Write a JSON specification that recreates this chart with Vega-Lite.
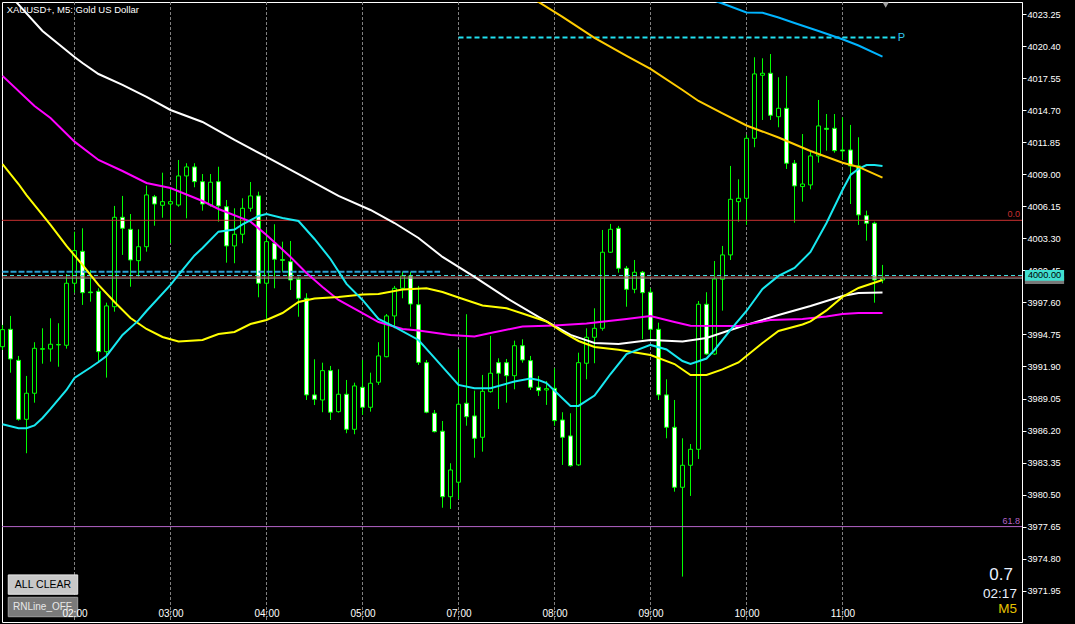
{
"$schema": "https://vega.github.io/schema/vega-lite/v6.json",
"autosize": {"type": "none"},
"padding": {"left": 2, "top": 2, "right": 53, "bottom": 2},
"width": 1020,
"height": 620,
"background": "#000000",
"config": {"font": "Liberation Sans", "view": {"stroke": "#FFFFFF", "strokeWidth": 1}, "axis": {"labelColor": "#FFFFFF", "tickColor": "#FFFFFF", "domainColor": "#FFFFFF", "labelFont": "Liberation Sans", "grid": false, "labelFlush": false, "labelOverlap": false}},
"datasets": {
"bars": [
{"k":0,"o":3993.66,"h":3995.60,"l":3993.37,"c":3995.18},
{"k":1,"o":3995.21,"h":3996.40,"l":3991.35,"c":3992.57},
{"k":2,"o":3992.45,"h":3992.84,"l":3987.08,"c":3987.20},
{"k":3,"o":3987.20,"h":3991.06,"l":3984.18,"c":3989.52},
{"k":4,"o":3989.52,"h":3994.06,"l":3988.68,"c":3993.52},
{"k":5,"o":3993.43,"h":3995.30,"l":3992.15,"c":3993.49},
{"k":6,"o":3993.46,"h":3996.19,"l":3992.33,"c":3993.88},
{"k":7,"o":3993.82,"h":3995.75,"l":3991.88,"c":3993.86},
{"k":8,"o":3993.79,"h":4000.13,"l":3993.49,"c":3999.31},
{"k":9,"o":3999.31,"h":4003.90,"l":3998.47,"c":4002.21},
{"k":10,"o":4002.15,"h":4004.20,"l":3997.38,"c":3998.47},
{"k":11,"o":3998.53,"h":4000.49,"l":3997.67,"c":3998.47},
{"k":12,"o":3998.59,"h":3998.86,"l":3992.33,"c":3993.22},
{"k":13,"o":3993.22,"h":3997.58,"l":3990.91,"c":3997.29},
{"k":14,"o":3997.22,"h":4006.19,"l":3996.78,"c":4005.18},
{"k":15,"o":4005.18,"h":4007.08,"l":4001.83,"c":4004.20},
{"k":16,"o":4004.11,"h":4005.47,"l":3999.00,"c":4001.38},
{"k":17,"o":4001.32,"h":4004.11,"l":3999.89,"c":4002.56},
{"k":18,"o":4002.56,"h":4008.00,"l":4002.12,"c":4007.17},
{"k":19,"o":4007.01,"h":4007.17,"l":4004.43,"c":4006.36},
{"k":20,"o":4006.25,"h":4009.15,"l":4005.14,"c":4006.57},
{"k":21,"o":4006.36,"h":4007.61,"l":4002.87,"c":4006.57},
{"k":22,"o":4006.27,"h":4010.28,"l":4006.12,"c":4008.86},
{"k":23,"o":4008.86,"h":4009.99,"l":4005.09,"c":4009.66},
{"k":24,"o":4009.66,"h":4009.99,"l":4007.85,"c":4008.35},
{"k":25,"o":4008.35,"h":4009.03,"l":4005.77,"c":4006.36},
{"k":26,"o":4006.27,"h":4009.03,"l":4006.12,"c":4008.30},
{"k":27,"o":4008.35,"h":4009.68,"l":4004.79,"c":4006.19},
{"k":28,"o":4006.12,"h":4006.72,"l":4001.14,"c":4002.63},
{"k":29,"o":4002.63,"h":4005.98,"l":4001.09,"c":4003.67},
{"k":30,"o":4003.67,"h":4006.87,"l":4002.87,"c":4005.98},
{"k":31,"o":4005.98,"h":4008.32,"l":4005.68,"c":4007.08},
{"k":32,"o":4007.08,"h":4007.46,"l":3998.06,"c":3999.31},
{"k":33,"o":3999.31,"h":4004.05,"l":3996.04,"c":4003.01},
{"k":34,"o":4002.87,"h":4004.56,"l":3998.86,"c":4001.44},
{"k":35,"o":4001.41,"h":4003.01,"l":4000.34,"c":4001.35},
{"k":36,"o":4001.23,"h":4003.07,"l":3998.71,"c":3999.60},
{"k":37,"o":3999.66,"h":3999.89,"l":3996.33,"c":3997.97},
{"k":38,"o":3997.97,"h":3998.42,"l":3988.92,"c":3989.37},
{"k":39,"o":3989.37,"h":3992.54,"l":3988.47,"c":3988.98},
{"k":40,"o":3988.92,"h":3992.24,"l":3987.83,"c":3991.53},
{"k":41,"o":3991.53,"h":3991.95,"l":3987.14,"c":3987.83},
{"k":42,"o":3987.88,"h":3991.65,"l":3987.79,"c":3989.43},
{"k":43,"o":3989.43,"h":3990.70,"l":3985.96,"c":3986.31},
{"k":44,"o":3986.31,"h":3990.46,"l":3985.87,"c":3990.17},
{"k":45,"o":3990.05,"h":3992.48,"l":3987.59,"c":3988.27},
{"k":46,"o":3988.27,"h":3991.35,"l":3987.88,"c":3990.41},
{"k":47,"o":3990.50,"h":3994.06,"l":3990.26,"c":3992.84},
{"k":48,"o":3992.77,"h":3996.57,"l":3992.72,"c":3996.40},
{"k":49,"o":3996.40,"h":3999.07,"l":3995.30,"c":3998.86},
{"k":50,"o":3998.86,"h":4000.34,"l":3997.97,"c":3999.96},
{"k":51,"o":3999.96,"h":4000.31,"l":3995.45,"c":3997.46},
{"k":52,"o":3997.40,"h":3999.07,"l":3992.04,"c":3992.27},
{"k":53,"o":3992.24,"h":3992.48,"l":3987.74,"c":3987.83},
{"k":54,"o":3987.74,"h":3988.03,"l":3986.03,"c":3986.10},
{"k":55,"o":3986.14,"h":3987.05,"l":3979.33,"c":3980.31},
{"k":56,"o":3980.31,"h":3983.29,"l":3979.22,"c":3982.69},
{"k":57,"o":3981.60,"h":3993.43,"l":3980.11,"c":3988.54},
{"k":58,"o":3988.63,"h":3996.55,"l":3986.63,"c":3987.43},
{"k":59,"o":3987.50,"h":3989.75,"l":3983.78,"c":3985.51},
{"k":60,"o":3985.60,"h":3991.15,"l":3984.32,"c":3989.69},
{"k":61,"o":3989.66,"h":3994.62,"l":3989.57,"c":3991.30},
{"k":62,"o":3992.24,"h":3992.63,"l":3988.12,"c":3991.30},
{"k":63,"o":3992.24,"h":3992.57,"l":3988.68,"c":3991.08},
{"k":64,"o":3991.08,"h":3994.20,"l":3989.87,"c":3993.75},
{"k":65,"o":3993.75,"h":3994.32,"l":3992.24,"c":3992.48},
{"k":66,"o":3992.42,"h":3992.84,"l":3989.81,"c":3990.05},
{"k":67,"o":3990.05,"h":3991.06,"l":3989.28,"c":3989.75},
{"k":68,"o":3989.81,"h":3990.61,"l":3988.48,"c":3989.93},
{"k":69,"o":3989.96,"h":3991.74,"l":3986.63,"c":3987.08},
{"k":70,"o":3987.14,"h":3987.83,"l":3983.14,"c":3985.60},
{"k":71,"o":3985.72,"h":3987.74,"l":3982.98,"c":3983.07},
{"k":72,"o":3983.14,"h":3993.13,"l":3983.05,"c":3992.24},
{"k":73,"o":3992.19,"h":3995.30,"l":3990.76,"c":3994.50},
{"k":74,"o":3994.50,"h":3997.08,"l":3992.19,"c":3995.30},
{"k":75,"o":3995.30,"h":4004.05,"l":3995.09,"c":4002.07},
{"k":76,"o":4002.07,"h":4004.59,"l":4002.00,"c":4004.11},
{"k":77,"o":4004.20,"h":4004.41,"l":4000.25,"c":4000.64},
{"k":78,"o":4000.64,"h":4000.85,"l":3997.22,"c":3998.77},
{"k":79,"o":3998.77,"h":4001.38,"l":3998.42,"c":4000.29},
{"k":80,"o":4000.29,"h":4000.40,"l":3994.32,"c":3998.47},
{"k":81,"o":3998.51,"h":3998.86,"l":3994.32,"c":3995.21},
{"k":82,"o":3995.21,"h":3995.80,"l":3988.92,"c":3989.37},
{"k":83,"o":3989.37,"h":3990.76,"l":3985.51,"c":3986.49},
{"k":84,"o":3986.49,"h":3988.92,"l":3980.76,"c":3981.15},
{"k":85,"o":3981.15,"h":3985.51,"l":3973.20,"c":3983.11},
{"k":86,"o":3983.11,"h":3985.00,"l":3980.38,"c":3984.53},
{"k":87,"o":3984.53,"h":3997.73,"l":3983.67,"c":3997.44},
{"k":88,"o":3997.44,"h":3998.51,"l":3992.93,"c":3993.01},
{"k":89,"o":3993.01,"h":4001.29,"l":3992.93,"c":3999.69},
{"k":90,"o":3999.66,"h":4002.63,"l":3996.87,"c":4001.83},
{"k":91,"o":4001.83,"h":4009.75,"l":4001.38,"c":4006.78},
{"k":92,"o":4006.57,"h":4008.56,"l":4004.79,"c":4006.87},
{"k":93,"o":4006.87,"h":4012.51,"l":4004.50,"c":4012.21},
{"k":94,"o":4012.21,"h":4019.42,"l":4011.41,"c":4017.94},
{"k":95,"o":4017.82,"h":4019.33,"l":4013.84,"c":4018.00},
{"k":96,"o":4018.00,"h":4019.71,"l":4013.84,"c":4014.26},
{"k":97,"o":4014.13,"h":4017.64,"l":4013.19,"c":4014.88},
{"k":98,"o":4014.88,"h":4017.76,"l":4009.48,"c":4009.99},
{"k":99,"o":4009.99,"h":4010.28,"l":4004.70,"c":4007.97},
{"k":100,"o":4007.91,"h":4012.59,"l":4006.57,"c":4008.14},
{"k":101,"o":4008.06,"h":4011.02,"l":4007.67,"c":4010.64},
{"k":102,"o":4010.64,"h":4015.62,"l":4010.04,"c":4013.31},
{"k":103,"o":4013.10,"h":4014.37,"l":4011.11,"c":4013.01},
{"k":104,"o":4013.10,"h":4014.37,"l":4010.93,"c":4011.11},
{"k":105,"o":4011.17,"h":4014.08,"l":4010.28,"c":4011.08},
{"k":106,"o":4011.17,"h":4013.40,"l":4006.36,"c":4009.75},
{"k":107,"o":4009.75,"h":4012.30,"l":4004.50,"c":4005.39},
{"k":108,"o":4005.32,"h":4005.77,"l":4003.10,"c":4004.65},
{"k":109,"o":4004.65,"h":4004.79,"l":3997.58,"c":3999.60},
{"k":110,"o":3999.60,"h":4000.94,"l":3999.31,"c":3999.78}
],
"ma": [
{"k":0,"p":4025.68,"s":"w"},{"k":5,"p":4021.76,"s":"w"},{"k":9,"p":4019.45,"s":"w"},{"k":10,"p":4018.91,"s":"w"},{"k":12,"p":4017.93,"s":"w"},{"k":15,"p":4016.96,"s":"w"},{"k":18,"p":4015.89,"s":"w"},{"k":21,"p":4014.73,"s":"w"},{"k":25,"p":4013.66,"s":"w"},{"k":29,"p":4012.06,"s":"w"},{"k":33,"p":4010.55,"s":"w"},{"k":37,"p":4009.03,"s":"w"},{"k":42,"p":4007.08,"s":"w"},{"k":46,"p":4005.83,"s":"w"},{"k":49,"p":4004.67,"s":"w"},{"k":52,"p":4003.34,"s":"w"},{"k":55,"p":4001.65,"s":"w"},{"k":59,"p":3999.87,"s":"w"},{"k":63,"p":3998.00,"s":"w"},{"k":67,"p":3996.31,"s":"w"},{"k":71,"p":3994.71,"s":"w"},{"k":74,"p":3993.99,"s":"w"},{"k":77,"p":3993.90,"s":"w"},{"k":81,"p":3994.26,"s":"w"},{"k":85,"p":3994.13,"s":"w"},{"k":88,"p":3994.44,"s":"w"},{"k":91,"p":3995.15,"s":"w"},{"k":93,"p":3995.60,"s":"w"},{"k":97,"p":3996.49,"s":"w"},{"k":101,"p":3997.29,"s":"w"},{"k":105,"p":3998.18,"s":"w"},{"k":107,"p":3998.44,"s":"w"},{"k":110,"p":3998.49,"s":"w"},
{"k":0,"p":4017.76,"s":"m"},{"k":4,"p":4015.09,"s":"m"},{"k":6,"p":4014.02,"s":"m"},{"k":9,"p":4011.91,"s":"m"},{"k":12,"p":4010.28,"s":"m"},{"k":15,"p":4009.30,"s":"m"},{"k":18,"p":4008.23,"s":"m"},{"k":21,"p":4007.79,"s":"m"},{"k":25,"p":4006.63,"s":"m"},{"k":27,"p":4005.92,"s":"m"},{"k":31,"p":4004.79,"s":"m"},{"k":33,"p":4003.60,"s":"m"},{"k":36,"p":4001.65,"s":"m"},{"k":38,"p":4000.22,"s":"m"},{"k":40,"p":3998.98,"s":"m"},{"k":42,"p":3997.82,"s":"m"},{"k":45,"p":3996.66,"s":"m"},{"k":47,"p":3995.86,"s":"m"},{"k":50,"p":3995.24,"s":"m"},{"k":52,"p":3995.11,"s":"m"},{"k":56,"p":3994.71,"s":"m"},{"k":59,"p":3994.57,"s":"m"},{"k":61,"p":3994.88,"s":"m"},{"k":65,"p":3995.46,"s":"m"},{"k":69,"p":3995.55,"s":"m"},{"k":73,"p":3995.73,"s":"m"},{"k":78,"p":3996.13,"s":"m"},{"k":81,"p":3996.40,"s":"m"},{"k":84,"p":3995.86,"s":"m"},{"k":86,"p":3995.53,"s":"m"},{"k":92,"p":3995.51,"s":"m"},{"k":96,"p":3996.04,"s":"m"},{"k":100,"p":3996.13,"s":"m"},{"k":103,"p":3996.35,"s":"m"},{"k":105,"p":3996.57,"s":"m"},{"k":107,"p":3996.66,"s":"m"},{"k":110,"p":3996.66,"s":"m"},
{"k":0,"p":4009.92,"s":"y"},{"k":2,"p":4008.14,"s":"y"},{"k":3,"p":4007.16,"s":"y"},{"k":6,"p":4004.50,"s":"y"},{"k":8,"p":4002.63,"s":"y"},{"k":10,"p":4000.94,"s":"y"},{"k":12,"p":3999.16,"s":"y"},{"k":14,"p":3997.64,"s":"y"},{"k":16,"p":3996.22,"s":"y"},{"k":18,"p":3995.24,"s":"y"},{"k":20,"p":3994.53,"s":"y"},{"k":22,"p":3994.13,"s":"y"},{"k":25,"p":3994.26,"s":"y"},{"k":27,"p":3994.79,"s":"y"},{"k":29,"p":3994.97,"s":"y"},{"k":31,"p":3995.68,"s":"y"},{"k":33,"p":3996.04,"s":"y"},{"k":35,"p":3996.66,"s":"y"},{"k":37,"p":3997.64,"s":"y"},{"k":39,"p":3997.95,"s":"y"},{"k":42,"p":3998.09,"s":"y"},{"k":45,"p":3998.31,"s":"y"},{"k":47,"p":3998.35,"s":"y"},{"k":50,"p":3998.75,"s":"y"},{"k":53,"p":3998.86,"s":"y"},{"k":55,"p":3998.53,"s":"y"},{"k":57,"p":3998.04,"s":"y"},{"k":60,"p":3997.33,"s":"y"},{"k":63,"p":3997.08,"s":"y"},{"k":65,"p":3996.62,"s":"y"},{"k":68,"p":3995.91,"s":"y"},{"k":70,"p":3994.97,"s":"y"},{"k":72,"p":3994.17,"s":"y"},{"k":74,"p":3993.64,"s":"y"},{"k":77,"p":3993.40,"s":"y"},{"k":81,"p":3992.92,"s":"y"},{"k":84,"p":3992.12,"s":"y"},{"k":86,"p":3991.14,"s":"y"},{"k":88,"p":3991.14,"s":"y"},{"k":90,"p":3991.64,"s":"y"},{"k":92,"p":3992.26,"s":"y"},{"k":95,"p":3993.99,"s":"y"},{"k":97,"p":3995.06,"s":"y"},{"k":100,"p":3995.64,"s":"y"},{"k":101,"p":3995.91,"s":"y"},{"k":103,"p":3996.89,"s":"y"},{"k":105,"p":3998.09,"s":"y"},{"k":107,"p":3998.89,"s":"y"},{"k":110,"p":3999.60,"s":"y"},
{"k":0,"p":3986.76,"s":"c"},{"k":2,"p":3986.40,"s":"c"},{"k":3,"p":3986.40,"s":"c"},{"k":4,"p":3986.65,"s":"c"},{"k":5,"p":3987.32,"s":"c"},{"k":6,"p":3988.12,"s":"c"},{"k":8,"p":3989.81,"s":"c"},{"k":9,"p":3990.88,"s":"c"},{"k":11,"p":3991.81,"s":"c"},{"k":12,"p":3992.30,"s":"c"},{"k":13,"p":3992.84,"s":"c"},{"k":15,"p":3994.71,"s":"c"},{"k":17,"p":3996.00,"s":"c"},{"k":18,"p":3996.84,"s":"c"},{"k":21,"p":3999.16,"s":"c"},{"k":22,"p":4000.05,"s":"c"},{"k":24,"p":4001.78,"s":"c"},{"k":25,"p":4002.45,"s":"c"},{"k":27,"p":4003.90,"s":"c"},{"k":29,"p":4004.09,"s":"c"},{"k":30,"p":4004.54,"s":"c"},{"k":32,"p":4005.30,"s":"c"},{"k":33,"p":4005.47,"s":"c"},{"k":35,"p":4005.12,"s":"c"},{"k":37,"p":4004.85,"s":"c"},{"k":39,"p":4003.25,"s":"c"},{"k":41,"p":4001.47,"s":"c"},{"k":43,"p":3999.25,"s":"c"},{"k":45,"p":3997.82,"s":"c"},{"k":47,"p":3996.13,"s":"c"},{"k":49,"p":3995.42,"s":"c"},{"k":52,"p":3994.26,"s":"c"},{"k":54,"p":3992.66,"s":"c"},{"k":57,"p":3990.26,"s":"c"},{"k":59,"p":3989.96,"s":"c"},{"k":61,"p":3989.96,"s":"c"},{"k":64,"p":3990.57,"s":"c"},{"k":66,"p":3990.83,"s":"c"},{"k":67,"p":3990.70,"s":"c"},{"k":68,"p":3990.43,"s":"c"},{"k":71,"p":3988.39,"s":"c"},{"k":72,"p":3988.39,"s":"c"},{"k":74,"p":3989.32,"s":"c"},{"k":75,"p":3990.26,"s":"c"},{"k":76,"p":3991.23,"s":"c"},{"k":78,"p":3993.01,"s":"c"},{"k":81,"p":3993.82,"s":"c"},{"k":83,"p":3993.41,"s":"c"},{"k":85,"p":3992.39,"s":"c"},{"k":86,"p":3992.12,"s":"c"},{"k":88,"p":3992.61,"s":"c"},{"k":89,"p":3993.37,"s":"c"},{"k":91,"p":3995.15,"s":"c"},{"k":93,"p":3996.84,"s":"c"},{"k":95,"p":3998.80,"s":"c"},{"k":97,"p":3999.96,"s":"c"},{"k":99,"p":4000.67,"s":"c"},{"k":101,"p":4002.09,"s":"c"},{"k":103,"p":4004.67,"s":"c"},{"k":105,"p":4007.61,"s":"c"},{"k":106,"p":4008.94,"s":"c"},{"k":107,"p":4009.48,"s":"c"},{"k":108,"p":4009.83,"s":"c"},{"k":109,"p":4009.83,"s":"c"},{"k":110,"p":4009.75,"s":"c"},
{"k":66,"p":4024.79,"s":"g"},{"k":70,"p":4023.01,"s":"g"},{"k":74,"p":4021.14,"s":"g"},{"k":78,"p":4019.54,"s":"g"},{"k":81,"p":4018.38,"s":"g"},{"k":85,"p":4016.51,"s":"g"},{"k":87,"p":4015.53,"s":"g"},{"k":90,"p":4014.42,"s":"g"},{"k":93,"p":4013.35,"s":"g"},{"k":97,"p":4012.28,"s":"g"},{"k":101,"p":4011.08,"s":"g"},{"k":105,"p":4010.04,"s":"g"},{"k":107,"p":4009.66,"s":"g"},{"k":110,"p":4008.71,"s":"g"},
{"k":88,"p":4024.70,"s":"b"},{"k":90,"p":4024.21,"s":"b"},{"k":93,"p":4023.41,"s":"b"},{"k":95,"p":4023.39,"s":"b"},{"k":97,"p":4022.96,"s":"b"},{"k":99,"p":4022.47,"s":"b"},{"k":102,"p":4021.76,"s":"b"},{"k":105,"p":4021.02,"s":"b"},{"k":107,"p":4020.47,"s":"b"},{"k":110,"p":4019.48,"s":"b"}
],
"notes": [
{"k": 0.525, "p": 4023.36, "t": "XAUUSD+, M5:  Gold US Dollar", "r": "title"},
{"k": 127.2, "p": 4005.21, "t": "0.0", "r": "fibo0"},
{"k": 127.2, "p": 3977.88, "t": "61.8", "r": "fibo618"},
{"k": 111.9, "p": 4021.18, "t": "P", "r": "pline"},
{"k": 5.06, "p": 3972.49, "t": "ALL CLEAR", "r": "btn1"},
{"k": 5.0, "p": 3970.50, "t": "RNLine_OFF", "r": "btn2"},
{"k": 126.3, "p": 3972.90, "t": "0.7", "r": "spread"},
{"k": 126.8, "p": 3971.30, "t": "02:17", "r": "timer"},
{"k": 126.8, "p": 3969.96, "t": "M5", "r": "tf"},
{"k": 130.25, "p": 4000.0, "t": "4000.00", "r": "price"}
],
"boxes": [
{"k": 0.72, "k2": 9.4, "p": 3973.35, "p2": 3971.63, "r": "btn1"},
{"k": 0.72, "k2": 9.4, "p": 3971.36, "p2": 3969.63, "r": "btn2"},
{"k": 127.8, "k2": 132.7, "p": 3999.96, "p2": 3999.25, "r": "bid"},
{"k": 127.8, "k2": 132.7, "p": 4000.49, "p2": 3999.54, "r": "price"}
]
},
"layer": [
{
"data": {"values": [{"k":9},{"k":21},{"k":33},{"k":45},{"k":57},{"k":69},{"k":81},{"k":93},{"k":105}]},
"mark": {"type": "rule", "color": "#808080", "strokeWidth": 1, "strokeDash": [3, 2]},
"encoding": {
"x": {"field": "k", "type": "quantitative", "scale": {"domain": [-0.0625, 127.4375], "nice": false, "zero": false, "padding": 0}, "axis": {"orient": "bottom", "title": null, "values": [9,21,33,45,57,69,81,93,105], "labelExpr": "(datum.value < 57 ? '0' + ((datum.value - 9) / 12 + 2) : (((datum.value - 9) / 12 + 3) < 10 ? '0' : '') + ((datum.value - 9) / 12 + 3)) + ':00'", "offset": -9, "domain": false, "ticks": false, "tickSize": 0, "labelPadding": 0, "labelBaseline": "middle", "labelFontSize": 10, "zindex": 1}}
}
},
{
"data": {"name": "bars"},
"mark": {"type": "rule", "color": "#00FF00", "strokeWidth": 1},
"encoding": {
"x": {"field": "k", "type": "quantitative", "scale": {"domain": [-0.0625, 127.4375], "nice": false, "zero": false, "padding": 0}, "axis": {"orient": "bottom", "title": null, "values": [9,21,33,45,57,69,81,93,105], "labelExpr": "(datum.value < 57 ? '0' + ((datum.value - 9) / 12 + 2) : (((datum.value - 9) / 12 + 3) < 10 ? '0' : '') + ((datum.value - 9) / 12 + 3)) + ':00'", "offset": -9, "domain": false, "ticks": false, "tickSize": 0, "labelPadding": 0, "labelBaseline": "middle", "labelFontSize": 10, "zindex": 1}},
"y": {"field": "l", "type": "quantitative", "scale": {"domain": [3969.16, 4024.34], "nice": false, "zero": false, "padding": 0}, "axis": {"orient": "right", "title": null, "values": [4023.25,4020.40,4017.55,4014.70,4011.85,4009.00,4006.15,4003.30,4000.45,3997.60,3994.75,3991.90,3989.05,3986.20,3983.35,3980.50,3977.65,3974.80,3971.95], "format": ".2f", "tickSize": 4, "labelFontSize": 9.2, "labelPadding": 1, "labelBaseline": "middle", "zindex": 0}},
"y2": {"field": "h"}
}
},
{
"data": {"name": "bars"},
"mark": {"type": "bar", "size": 4, "stroke": "#00FF00", "strokeWidth": 1},
"encoding": {
"x": {"field": "k", "type": "quantitative", "scale": {"domain": [-0.0625, 127.4375], "nice": false, "zero": false, "padding": 0}, "axis": {"orient": "bottom", "title": null, "values": [9,21,33,45,57,69,81,93,105], "labelExpr": "(datum.value < 57 ? '0' + ((datum.value - 9) / 12 + 2) : (((datum.value - 9) / 12 + 3) < 10 ? '0' : '') + ((datum.value - 9) / 12 + 3)) + ':00'", "offset": -9, "domain": false, "ticks": false, "tickSize": 0, "labelPadding": 0, "labelBaseline": "middle", "labelFontSize": 10, "zindex": 1}},
"y": {"field": "o", "type": "quantitative", "scale": {"domain": [3969.16, 4024.34], "nice": false, "zero": false, "padding": 0}, "axis": {"orient": "right", "title": null, "values": [4023.25,4020.40,4017.55,4014.70,4011.85,4009.00,4006.15,4003.30,4000.45,3997.60,3994.75,3991.90,3989.05,3986.20,3983.35,3980.50,3977.65,3974.80,3971.95], "format": ".2f", "tickSize": 4, "labelFontSize": 9.2, "labelPadding": 1, "labelBaseline": "middle", "zindex": 0}},
"y2": {"field": "c"},
"fill": {"condition": {"test": "datum.c < datum.o", "value": "#FFFFFF"}, "value": "#000000"}
}
},
{
"data": {"values": [{"p": 4004.91}]},
"mark": {"type": "rule", "color": "#C83030", "strokeWidth": 1},
"encoding": {"y": {"field": "p", "type": "quantitative", "scale": {"domain": [3969.16, 4024.34], "nice": false, "zero": false, "padding": 0}, "axis": {"orient": "right", "title": null, "values": [4023.25,4020.40,4017.55,4014.70,4011.85,4009.00,4006.15,4003.30,4000.45,3997.60,3994.75,3991.90,3989.05,3986.20,3983.35,3980.50,3977.65,3974.80,3971.95], "format": ".2f", "tickSize": 4, "labelFontSize": 9.2, "labelPadding": 1, "labelBaseline": "middle", "zindex": 0}}}
},
{
"data": {"values": [{"p": 3977.65}]},
"mark": {"type": "rule", "color": "#B464C8", "strokeWidth": 1},
"encoding": {"y": {"field": "p", "type": "quantitative", "scale": {"domain": [3969.16, 4024.34], "nice": false, "zero": false, "padding": 0}, "axis": {"orient": "right", "title": null, "values": [4023.25,4020.40,4017.55,4014.70,4011.85,4009.00,4006.15,4003.30,4000.45,3997.60,3994.75,3991.90,3989.05,3986.20,3983.35,3980.50,3977.65,3974.80,3971.95], "format": ".2f", "tickSize": 4, "labelFontSize": 9.2, "labelPadding": 1, "labelBaseline": "middle", "zindex": 0}}}
},
{
"data": {"values": [{"p": 3999.86}]},
"mark": {"type": "rule", "color": "#B03838", "strokeWidth": 1},
"encoding": {"y": {"field": "p", "type": "quantitative", "scale": {"domain": [3969.16, 4024.34], "nice": false, "zero": false, "padding": 0}, "axis": {"orient": "right", "title": null, "values": [4023.25,4020.40,4017.55,4014.70,4011.85,4009.00,4006.15,4003.30,4000.45,3997.60,3994.75,3991.90,3989.05,3986.20,3983.35,3980.50,3977.65,3974.80,3971.95], "format": ".2f", "tickSize": 4, "labelFontSize": 9.2, "labelPadding": 1, "labelBaseline": "middle", "zindex": 0}}}
},
{
"data": {"values": [{"p": 3999.76}]},
"mark": {"type": "rule", "color": "#8C8C8C", "strokeWidth": 1},
"encoding": {"y": {"field": "p", "type": "quantitative", "scale": {"domain": [3969.16, 4024.34], "nice": false, "zero": false, "padding": 0}, "axis": {"orient": "right", "title": null, "values": [4023.25,4020.40,4017.55,4014.70,4011.85,4009.00,4006.15,4003.30,4000.45,3997.60,3994.75,3991.90,3989.05,3986.20,3983.35,3980.50,3977.65,3974.80,3971.95], "format": ".2f", "tickSize": 4, "labelFontSize": 9.2, "labelPadding": 1, "labelBaseline": "middle", "zindex": 0}}}
},
{
"data": {"values": [{"p": 4000.00}]},
"mark": {"type": "rule", "color": "#40E0E0", "strokeWidth": 1, "strokeDash": [4, 3]},
"encoding": {"y": {"field": "p", "type": "quantitative", "scale": {"domain": [3969.16, 4024.34], "nice": false, "zero": false, "padding": 0}, "axis": {"orient": "right", "title": null, "values": [4023.25,4020.40,4017.55,4014.70,4011.85,4009.00,4006.15,4003.30,4000.45,3997.60,3994.75,3991.90,3989.05,3986.20,3983.35,3980.50,3977.65,3974.80,3971.95], "format": ".2f", "tickSize": 4, "labelFontSize": 9.2, "labelPadding": 1, "labelBaseline": "middle", "zindex": 0}}}
},
{
"data": {"values": [{"k": 0, "k2": 54.7, "p": 4000.34}]},
"mark": {"type": "rule", "color": "#2AA0D2", "strokeWidth": 2, "strokeDash": [6, 2]},
"encoding": {
"x": {"field": "k", "type": "quantitative", "scale": {"domain": [-0.0625, 127.4375], "nice": false, "zero": false, "padding": 0}, "axis": {"orient": "bottom", "title": null, "values": [9,21,33,45,57,69,81,93,105], "labelExpr": "(datum.value < 57 ? '0' + ((datum.value - 9) / 12 + 2) : (((datum.value - 9) / 12 + 3) < 10 ? '0' : '') + ((datum.value - 9) / 12 + 3)) + ':00'", "offset": -9, "domain": false, "ticks": false, "tickSize": 0, "labelPadding": 0, "labelBaseline": "middle", "labelFontSize": 10, "zindex": 1}},
"x2": {"field": "k2"},
"y": {"field": "p", "type": "quantitative", "scale": {"domain": [3969.16, 4024.34], "nice": false, "zero": false, "padding": 0}, "axis": {"orient": "right", "title": null, "values": [4023.25,4020.40,4017.55,4014.70,4011.85,4009.00,4006.15,4003.30,4000.45,3997.60,3994.75,3991.90,3989.05,3986.20,3983.35,3980.50,3977.65,3974.80,3971.95], "format": ".2f", "tickSize": 4, "labelFontSize": 9.2, "labelPadding": 1, "labelBaseline": "middle", "zindex": 0}}
}
},
{
"data": {"values": [{"k": 57, "k2": 111.6, "p": 4021.17}]},
"mark": {"type": "rule", "color": "#20E0F0", "strokeWidth": 2, "strokeDash": [5, 3]},
"encoding": {
"x": {"field": "k", "type": "quantitative", "scale": {"domain": [-0.0625, 127.4375], "nice": false, "zero": false, "padding": 0}, "axis": {"orient": "bottom", "title": null, "values": [9,21,33,45,57,69,81,93,105], "labelExpr": "(datum.value < 57 ? '0' + ((datum.value - 9) / 12 + 2) : (((datum.value - 9) / 12 + 3) < 10 ? '0' : '') + ((datum.value - 9) / 12 + 3)) + ':00'", "offset": -9, "domain": false, "ticks": false, "tickSize": 0, "labelPadding": 0, "labelBaseline": "middle", "labelFontSize": 10, "zindex": 1}},
"x2": {"field": "k2"},
"y": {"field": "p", "type": "quantitative", "scale": {"domain": [3969.16, 4024.34], "nice": false, "zero": false, "padding": 0}, "axis": {"orient": "right", "title": null, "values": [4023.25,4020.40,4017.55,4014.70,4011.85,4009.00,4006.15,4003.30,4000.45,3997.60,3994.75,3991.90,3989.05,3986.20,3983.35,3980.50,3977.65,3974.80,3971.95], "format": ".2f", "tickSize": 4, "labelFontSize": 9.2, "labelPadding": 1, "labelBaseline": "middle", "zindex": 0}}
}
},
{
"data": {"name": "ma"},
"mark": {"type": "line", "strokeWidth": 2, "clip": true, "interpolate": "linear"},
"encoding": {
"x": {"field": "k", "type": "quantitative", "scale": {"domain": [-0.0625, 127.4375], "nice": false, "zero": false, "padding": 0}, "axis": {"orient": "bottom", "title": null, "values": [9,21,33,45,57,69,81,93,105], "labelExpr": "(datum.value < 57 ? '0' + ((datum.value - 9) / 12 + 2) : (((datum.value - 9) / 12 + 3) < 10 ? '0' : '') + ((datum.value - 9) / 12 + 3)) + ':00'", "offset": -9, "domain": false, "ticks": false, "tickSize": 0, "labelPadding": 0, "labelBaseline": "middle", "labelFontSize": 10, "zindex": 1}},
"y": {"field": "p", "type": "quantitative", "scale": {"domain": [3969.16, 4024.34], "nice": false, "zero": false, "padding": 0}, "axis": {"orient": "right", "title": null, "values": [4023.25,4020.40,4017.55,4014.70,4011.85,4009.00,4006.15,4003.30,4000.45,3997.60,3994.75,3991.90,3989.05,3986.20,3983.35,3980.50,3977.65,3974.80,3971.95], "format": ".2f", "tickSize": 4, "labelFontSize": 9.2, "labelPadding": 1, "labelBaseline": "middle", "zindex": 0}},
"color": {"field": "s", "type": "nominal", "legend": null, "scale": {"domain": ["w", "m", "y", "c", "g", "b"], "range": ["#FFFFFF", "#FF00FF", "#FFFF00", "#18E8F0", "#FFCC00", "#00B4FF"]}}
}
},
{
"data": {"name": "boxes"},
"mark": {"type": "rect"},
"encoding": {
"x": {"field": "k", "type": "quantitative", "scale": {"domain": [-0.0625, 127.4375], "nice": false, "zero": false, "padding": 0}, "axis": {"orient": "bottom", "title": null, "values": [9,21,33,45,57,69,81,93,105], "labelExpr": "(datum.value < 57 ? '0' + ((datum.value - 9) / 12 + 2) : (((datum.value - 9) / 12 + 3) < 10 ? '0' : '') + ((datum.value - 9) / 12 + 3)) + ':00'", "offset": -9, "domain": false, "ticks": false, "tickSize": 0, "labelPadding": 0, "labelBaseline": "middle", "labelFontSize": 10, "zindex": 1}},
"x2": {"field": "k2"},
"y": {"field": "p", "type": "quantitative", "scale": {"domain": [3969.16, 4024.34], "nice": false, "zero": false, "padding": 0}, "axis": {"orient": "right", "title": null, "values": [4023.25,4020.40,4017.55,4014.70,4011.85,4009.00,4006.15,4003.30,4000.45,3997.60,3994.75,3991.90,3989.05,3986.20,3983.35,3980.50,3977.65,3974.80,3971.95], "format": ".2f", "tickSize": 4, "labelFontSize": 9.2, "labelPadding": 1, "labelBaseline": "middle", "zindex": 0}},
"y2": {"field": "p2"},
"fill": {"condition": [{"test": "datum.r == 'btn1'", "value": "#C8C8C8"}, {"test": "datum.r == 'btn2'", "value": "#7A7A7A"}, {"test": "datum.r == 'bid'", "value": "#787878"}], "value": "#40E0D0"},
"stroke": {"condition": [{"test": "datum.r == 'btn1'", "value": "#E8E8E8"}, {"test": "datum.r == 'btn2'", "value": "#A0A0A0"}], "value": null}
}
},
{
"data": {"values": [{"k": 110.4, "p": 4024.07}]},
"mark": {"type": "point", "shape": "triangle-down", "filled": true, "color": "#A0A0A0", "size": 40, "opacity": 1},
"encoding": {
"x": {"field": "k", "type": "quantitative", "scale": {"domain": [-0.0625, 127.4375], "nice": false, "zero": false, "padding": 0}, "axis": {"orient": "bottom", "title": null, "values": [9,21,33,45,57,69,81,93,105], "labelExpr": "(datum.value < 57 ? '0' + ((datum.value - 9) / 12 + 2) : (((datum.value - 9) / 12 + 3) < 10 ? '0' : '') + ((datum.value - 9) / 12 + 3)) + ':00'", "offset": -9, "domain": false, "ticks": false, "tickSize": 0, "labelPadding": 0, "labelBaseline": "middle", "labelFontSize": 10, "zindex": 1}},
"y": {"field": "p", "type": "quantitative", "scale": {"domain": [3969.16, 4024.34], "nice": false, "zero": false, "padding": 0}, "axis": {"orient": "right", "title": null, "values": [4023.25,4020.40,4017.55,4014.70,4011.85,4009.00,4006.15,4003.30,4000.45,3997.60,3994.75,3991.90,3989.05,3986.20,3983.35,3980.50,3977.65,3974.80,3971.95], "format": ".2f", "tickSize": 4, "labelFontSize": 9.2, "labelPadding": 1, "labelBaseline": "middle", "zindex": 0}}
}
},
{
"data": {"name": "notes"},
"transform": [{"filter": "datum.r == 'title'"}],
"mark": {"type": "text", "align": "left", "baseline": "alphabetic", "color": "#FFFFFF", "fontSize": 9.5, "font": "Liberation Sans"},
"encoding": {
"x": {"field": "k", "type": "quantitative", "scale": {"domain": [-0.0625, 127.4375], "nice": false, "zero": false, "padding": 0}, "axis": {"orient": "bottom", "title": null, "values": [9,21,33,45,57,69,81,93,105], "labelExpr": "(datum.value < 57 ? '0' + ((datum.value - 9) / 12 + 2) : (((datum.value - 9) / 12 + 3) < 10 ? '0' : '') + ((datum.value - 9) / 12 + 3)) + ':00'", "offset": -9, "domain": false, "ticks": false, "tickSize": 0, "labelPadding": 0, "labelBaseline": "middle", "labelFontSize": 10, "zindex": 1}},
"y": {"field": "p", "type": "quantitative", "scale": {"domain": [3969.16, 4024.34], "nice": false, "zero": false, "padding": 0}, "axis": {"orient": "right", "title": null, "values": [4023.25,4020.40,4017.55,4014.70,4011.85,4009.00,4006.15,4003.30,4000.45,3997.60,3994.75,3991.90,3989.05,3986.20,3983.35,3980.50,3977.65,3974.80,3971.95], "format": ".2f", "tickSize": 4, "labelFontSize": 9.2, "labelPadding": 1, "labelBaseline": "middle", "zindex": 0}},
"text": {"field": "t"}
}
},
{
"data": {"name": "notes"},
"transform": [{"filter": "datum.r == 'fibo0' || datum.r == 'fibo618' || datum.r == 'spread' || datum.r == 'timer' || datum.r == 'tf'"}],
"mark": {"type": "text", "align": "right", "baseline": "alphabetic", "font": "Liberation Sans"},
"encoding": {
"x": {"field": "k", "type": "quantitative", "scale": {"domain": [-0.0625, 127.4375], "nice": false, "zero": false, "padding": 0}, "axis": {"orient": "bottom", "title": null, "values": [9,21,33,45,57,69,81,93,105], "labelExpr": "(datum.value < 57 ? '0' + ((datum.value - 9) / 12 + 2) : (((datum.value - 9) / 12 + 3) < 10 ? '0' : '') + ((datum.value - 9) / 12 + 3)) + ':00'", "offset": -9, "domain": false, "ticks": false, "tickSize": 0, "labelPadding": 0, "labelBaseline": "middle", "labelFontSize": 10, "zindex": 1}},
"y": {"field": "p", "type": "quantitative", "scale": {"domain": [3969.16, 4024.34], "nice": false, "zero": false, "padding": 0}, "axis": {"orient": "right", "title": null, "values": [4023.25,4020.40,4017.55,4014.70,4011.85,4009.00,4006.15,4003.30,4000.45,3997.60,3994.75,3991.90,3989.05,3986.20,3983.35,3980.50,3977.65,3974.80,3971.95], "format": ".2f", "tickSize": 4, "labelFontSize": 9.2, "labelPadding": 1, "labelBaseline": "middle", "zindex": 0}},
"text": {"field": "t"},
"color": {"condition": [{"test": "datum.r == 'fibo0'", "value": "#C83030"}, {"test": "datum.r == 'fibo618'", "value": "#B464C8"}, {"test": "datum.r == 'tf'", "value": "#E6C200"}], "value": "#EAF2FF"},
"size": {"condition": [{"test": "datum.r == 'fibo0' || datum.r == 'fibo618'", "value": 9}, {"test": "datum.r == 'spread'", "value": 17}], "value": 13.5}
}
},
{
"data": {"name": "notes"},
"transform": [{"filter": "datum.r == 'pline'"}],
"mark": {"type": "text", "align": "left", "baseline": "middle", "color": "#30C8F0", "fontSize": 11, "font": "Liberation Sans"},
"encoding": {
"x": {"field": "k", "type": "quantitative", "scale": {"domain": [-0.0625, 127.4375], "nice": false, "zero": false, "padding": 0}, "axis": {"orient": "bottom", "title": null, "values": [9,21,33,45,57,69,81,93,105], "labelExpr": "(datum.value < 57 ? '0' + ((datum.value - 9) / 12 + 2) : (((datum.value - 9) / 12 + 3) < 10 ? '0' : '') + ((datum.value - 9) / 12 + 3)) + ':00'", "offset": -9, "domain": false, "ticks": false, "tickSize": 0, "labelPadding": 0, "labelBaseline": "middle", "labelFontSize": 10, "zindex": 1}},
"y": {"field": "p", "type": "quantitative", "scale": {"domain": [3969.16, 4024.34], "nice": false, "zero": false, "padding": 0}, "axis": {"orient": "right", "title": null, "values": [4023.25,4020.40,4017.55,4014.70,4011.85,4009.00,4006.15,4003.30,4000.45,3997.60,3994.75,3991.90,3989.05,3986.20,3983.35,3980.50,3977.65,3974.80,3971.95], "format": ".2f", "tickSize": 4, "labelFontSize": 9.2, "labelPadding": 1, "labelBaseline": "middle", "zindex": 0}},
"text": {"field": "t"}
}
},
{
"data": {"name": "notes"},
"transform": [{"filter": "datum.r == 'btn1' || datum.r == 'btn2' || datum.r == 'price'"}],
"mark": {"type": "text", "align": "center", "baseline": "middle", "font": "Liberation Sans"},
"encoding": {
"x": {"field": "k", "type": "quantitative", "scale": {"domain": [-0.0625, 127.4375], "nice": false, "zero": false, "padding": 0}, "axis": {"orient": "bottom", "title": null, "values": [9,21,33,45,57,69,81,93,105], "labelExpr": "(datum.value < 57 ? '0' + ((datum.value - 9) / 12 + 2) : (((datum.value - 9) / 12 + 3) < 10 ? '0' : '') + ((datum.value - 9) / 12 + 3)) + ':00'", "offset": -9, "domain": false, "ticks": false, "tickSize": 0, "labelPadding": 0, "labelBaseline": "middle", "labelFontSize": 10, "zindex": 1}},
"y": {"field": "p", "type": "quantitative", "scale": {"domain": [3969.16, 4024.34], "nice": false, "zero": false, "padding": 0}, "axis": {"orient": "right", "title": null, "values": [4023.25,4020.40,4017.55,4014.70,4011.85,4009.00,4006.15,4003.30,4000.45,3997.60,3994.75,3991.90,3989.05,3986.20,3983.35,3980.50,3977.65,3974.80,3971.95], "format": ".2f", "tickSize": 4, "labelFontSize": 9.2, "labelPadding": 1, "labelBaseline": "middle", "zindex": 0}},
"text": {"field": "t"},
"color": {"condition": {"test": "datum.r == 'btn2'", "value": "#E8E8E8"}, "value": "#000000"},
"size": {"condition": [{"test": "datum.r == 'btn1'", "value": 10.5}, {"test": "datum.r == 'price'", "value": 9.2}], "value": 10}
}
}
]
}
